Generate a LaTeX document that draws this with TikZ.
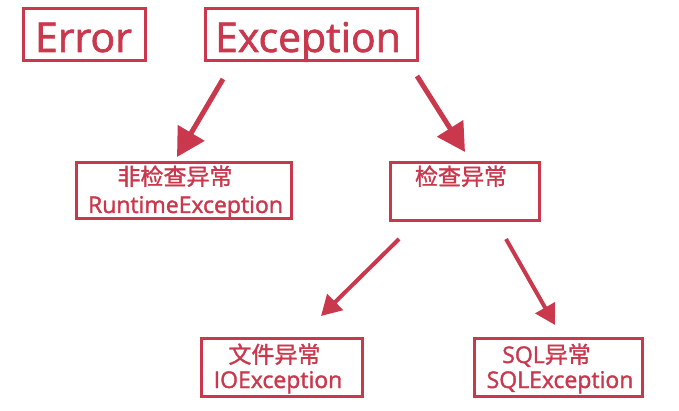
\documentclass[tikz,border=0pt]{standalone}
\usepackage{fontspec}
\setmainfont{Open Sans}[FakeBold=1.6,AutoFakeBold=1.6]
\newfontfamily\cjk{Noto Sans CJK SC}[FakeBold=1.4,AutoFakeBold=1.4]
\usetikzlibrary{arrows.meta}
\definecolor{cr}{RGB}{201,56,77}
\tikzset{
  box/.style={draw=cr, line width=3pt, inner sep=0pt, minimum width=#1},
  big/.style={text=cr, inner sep=0pt, anchor=base, font=\fontsize{41}{41}\selectfont\bfseries},
  small/.style={text=cr, inner sep=0pt, anchor=base, font=\fontsize{23}{23}\selectfont\bfseries},
  bigarrow/.style={draw=cr, line width=5pt, -{Triangle[length=28pt,width=30pt]}},
  smallarrow/.style={draw=cr, line width=4pt, -{Triangle[length=20pt,width=22pt]}}
}
\begin{document}
\begin{tikzpicture}[x=1pt,y=-1pt]
\useasboundingbox (0,0) rectangle (679,411);
% boxes
\node[box=122pt, minimum height=52pt] (err) at (84.5,34.5) {};
\node[box=212pt, minimum height=52pt] (exc) at (311.5,34.5) {};
\node[box=215pt, minimum height=56pt] (rt) at (184,190.5) {};
\node[box=149pt, minimum height=58pt] (chk) at (465,191.5) {};
\node[box=161pt, minimum height=58pt] (io) at (282,367.5) {};
\node[box=168pt, minimum height=58pt] (sql) at (558.5,367.5) {};
% texts
\node[big] (terr) at (83.5,52) {Error};
\node[big] (texc) at (308,52) {Exception};
\node[small] (trt1) at (175,185) {\cjk\bfseries 非检查异常};
\node[small] (trt2) at (185.5,213) {RuntimeException};
\node[small] (tchk) at (461,185) {\cjk\bfseries 检查异常};
\node[small] (tio1) at (274.5,363) {\cjk\bfseries 文件异常};
\node[small] (tio2) at (278,388) {IOException};
\node[small] (tsql1) at (546.5,363) {SQL{\cjk\bfseries 异常}};
\node[small] (tsql2) at (560,388) {SQLException};
% arrow ends
\coordinate (a1s) at (223,79);
\coordinate (a1e) at (177,157);
\coordinate (a2s) at (417,76);
\coordinate (a2e) at (465,152);
\coordinate (a3s) at (399,239);
\coordinate (a3e) at (321,316);
\coordinate (a4s) at (506,239);
\coordinate (a4e) at (555,325);
\draw[bigarrow] (a1s) -- (a1e);
\draw[bigarrow] (a2s) -- (a2e);
\draw[smallarrow] (a3s) -- (a3e);
\draw[smallarrow] (a4s) -- (a4e);
\end{tikzpicture}
\end{document}
